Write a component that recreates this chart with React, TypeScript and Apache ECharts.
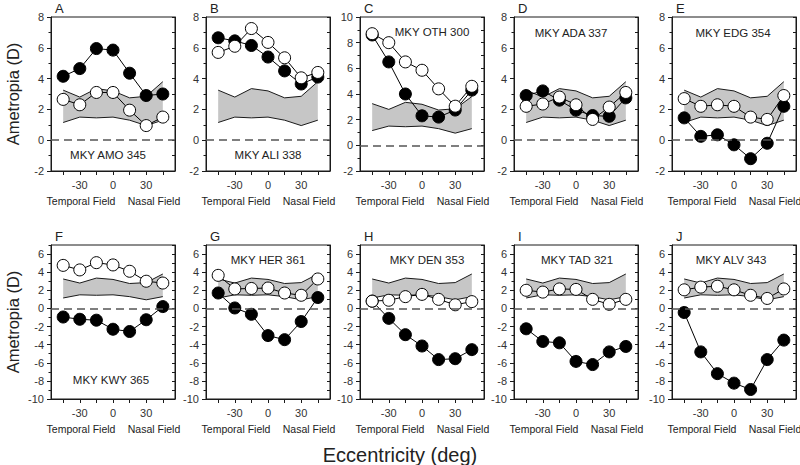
import React, { useEffect, useRef } from "react";
import * as echarts from "echarts";

// ---- data ----
const eccentricities = [-45, -30, -15, 0, 15, 30, 45];
const bandUpper = [3.25, 2.8, 3.35, 3.2, 2.75, 2.85, 3.8];
const bandLower = [1.15, 1.5, 1.45, 1.5, 1.3, 0.95, 1.3];

const panelLetters = ["A", "B", "C", "D", "E", "F", "G", "H", "I", "J"];
const monkeyNames = [
  "MKY AMO 345", "MKY ALI 338", "MKY OTH 300", "MKY ADA 337", "MKY EDG 354",
  "MKY KWY 365", "MKY HER 361", "MKY DEN 353", "MKY TAD 321", "MKY ALV 343",
];

const amoFilled = [4.15, 4.65, 5.95, 5.85, 4.35, 2.9, 3.0];
const amoOpen = [2.65, 2.3, 3.1, 3.1, 1.95, 0.95, 1.5];
const aliFilled = [6.65, 6.45, 6.15, 5.4, 4.5, 3.65, 4.1];
const aliOpen = [5.7, 6.1, 7.25, 6.35, 5.35, 4.05, 4.4];
const othFilled = [8.6, 6.5, 4.0, 2.3, 2.2, 2.75, 4.3];
const othOpen = [8.7, 8.0, 6.5, 5.85, 4.4, 3.05, 4.6];
const adaFilled = [2.9, 3.2, 2.6, 1.95, 1.6, 1.55, 2.75];
const adaOpen = [2.2, 2.35, 2.8, 2.3, 1.35, 2.15, 3.1];
const edgFilled = [1.45, 0.25, 0.35, -0.3, -1.2, -0.2, 2.2];
const edgOpen = [2.7, 2.2, 2.3, 2.2, 1.5, 1.35, 2.9];
const kwyFilled = [-0.95, -1.2, -1.3, -2.3, -2.55, -1.25, 0.2];
const kwyOpen = [4.75, 4.25, 5.05, 4.8, 4.1, 3.0, 2.8];
const herFilled = [1.7, 0.05, -0.65, -3.0, -3.45, -1.45, 1.2];
const herOpen = [3.65, 2.15, 2.2, 2.25, 1.7, 1.45, 3.25];
const denFilled = [0.8, -1.1, -2.9, -4.15, -5.65, -5.55, -4.55];
const denOpen = [0.8, 0.9, 1.3, 1.55, 1.0, 0.4, 0.75];
const tadFilled = [-2.25, -3.65, -3.8, -5.85, -6.2, -4.8, -4.2];
const tadOpen = [2.0, 1.8, 2.15, 2.1, 1.0, 0.45, 1.0];
const alvFilled = [-0.45, -4.8, -7.2, -8.25, -8.95, -5.65, -3.5];
const alvOpen = [2.05, 2.35, 2.45, 2.05, 1.45, 1.1, 2.15];

const filledSets = [amoFilled, aliFilled, othFilled, adaFilled, edgFilled, kwyFilled, herFilled, denFilled, tadFilled, alvFilled];
const openSets = [amoOpen, aliOpen, othOpen, adaOpen, edgOpen, kwyOpen, herOpen, denOpen, tadOpen, alvOpen];

const yRanges = [[-2, 8], [-2, 8], [-2, 10], [-2, 8], [-2, 8], [-10, 7], [-10, 7], [-10, 7], [-10, 7], [-10, 7]];
const xTickValues = [-45, -30, -15, 0, 15, 30, 45];
const xLabelValues = [-30, 0, 30];
const xRange = [-56, 56];

// ---- layout ----
const gridLefts = [51, 206, 360, 514, 672];
const gridTops = [17, 245];
const gridW = 124;
const gridH = 154;
const nameOffsets = [[57, 138], [62, 138], [72, 15], [57, 16], [61, 16], [60, 135], [62, 15], [67, 15], [63, 15], [59, 15]];
const FONT = "'Liberation Sans', Arial, Helvetica, sans-serif";

function range(a: number, b: number, step: number) {
  const out: number[] = [];
  for (let v = a; v <= b + 1e-9; v += step) out.push(v);
  return out;
}

function buildOption() {
  const grid: any[] = [];
  const xAxis: any[] = [];
  const yAxis: any[] = [];
  const series: any[] = [];
  const graphic: any[] = [];
  const lineColor = "#1a1a1a";

  for (let i = 0; i < 10; i++) {
    const row = i < 5 ? 0 : 1;
    const col = i % 5;
    const left = gridLefts[col];
    const top = gridTops[row];
    const [ymin, ymax] = yRanges[i];
    grid.push({ left, top, width: gridW, height: gridH, show: true, borderColor: lineColor, borderWidth: 1, backgroundColor: "transparent" });
    xAxis.push({
      gridIndex: i, type: "value", min: xRange[0], max: xRange[1], position: "bottom",
      axisLine: { show: true, onZero: false, lineStyle: { color: lineColor, width: 1 } },
      axisTick: { show: true, customValues: xTickValues, length: 4, inside: false, lineStyle: { color: lineColor } },
      axisLabel: { customValues: xLabelValues, fontSize: 11, color: "#333", margin: 8, fontFamily: FONT },
      splitLine: { show: false },
    });
    const ints = range(ymin, ymax, 1);
    const evens = ints.filter((v) => Math.abs(v % 2) === 0 && v < ymax + (ymax % 2 === 0 ? 1 : 0));
    const odds = ints.filter((v) => Math.abs(v % 2) === 1);
    // left main axis
    yAxis.push({
      gridIndex: i, type: "value", min: ymin, max: ymax, position: "left",
      axisLine: { show: true, onZero: false, lineStyle: { color: lineColor, width: 1 } },
      axisTick: { show: true, customValues: evens, length: 4, lineStyle: { color: lineColor } },
      axisLabel: { customValues: evens, fontSize: 11, color: "#333", margin: 7, fontFamily: FONT },
      splitLine: { show: false },
    });
    // left minor ticks
    yAxis.push({
      gridIndex: i, type: "value", min: ymin, max: ymax, position: "left",
      axisLine: { show: false, onZero: false },
      axisTick: { show: true, customValues: odds, length: 2.5, lineStyle: { color: lineColor } },
      axisLabel: { show: false },
      splitLine: { show: false },
    });
    // right axis with inward ticks
    yAxis.push({
      gridIndex: i, type: "value", min: ymin, max: ymax, position: "right",
      axisLine: { show: true, onZero: false, lineStyle: { color: lineColor, width: 1 } },
      axisTick: { show: true, inside: true, customValues: ints, length: 3, lineStyle: { color: lineColor } },
      axisLabel: { show: false },
      splitLine: { show: false },
    });
    const yIdx = i * 3;

    // band fill
    series.push({
      type: "custom", coordinateSystem: "cartesian2d", xAxisIndex: i, yAxisIndex: yIdx,
      silent: true, z: 1,
      data: eccentricities.map((x, k) => [x, bandLower[k], bandUpper[k]]),
      encode: { x: 0, y: [1, 2] },
      renderItem: (params: any, api: any) => {
        if (params.dataIndex !== 0) return null;
        const pts: number[][] = [];
        for (let k = 0; k < eccentricities.length; k++) pts.push(api.coord([eccentricities[k], bandUpper[k]]));
        for (let k = eccentricities.length - 1; k >= 0; k--) pts.push(api.coord([eccentricities[k], bandLower[k]]));
        return { type: "polygon", shape: { points: pts }, style: { fill: "#c6c6c6", stroke: "none" } };
      },
    });
    // band outlines
    series.push({
      type: "line", xAxisIndex: i, yAxisIndex: yIdx, silent: true, z: 2, symbol: "none",
      data: eccentricities.map((x, k) => [x, bandUpper[k]]),
      lineStyle: { color: lineColor, width: 1 },
    });
    series.push({
      type: "line", xAxisIndex: i, yAxisIndex: yIdx, silent: true, z: 2, symbol: "none",
      data: eccentricities.map((x, k) => [x, bandLower[k]]),
      lineStyle: { color: lineColor, width: 1 },
      markLine: {
        silent: true, symbol: ["none", "none"], label: { show: false },
        lineStyle: { type: [8, 5], color: "#555", width: 1.5 },
        data: [{ yAxis: 0 }],
      },
    });
    // filled
    series.push({
      type: "line", xAxisIndex: i, yAxisIndex: yIdx, z: 3, symbol: "circle", symbolSize: 12,
      data: eccentricities.map((x, k) => [x, filledSets[i][k]]),
      lineStyle: { color: "#000", width: 1 },
      itemStyle: { color: "#000", borderColor: "#000", borderWidth: 1 },
    });
    // open
    series.push({
      type: "line", xAxisIndex: i, yAxisIndex: yIdx, z: 4, symbol: "circle", symbolSize: 12,
      data: eccentricities.map((x, k) => [x, openSets[i][k]]),
      lineStyle: { color: "#000", width: 1 },
      itemStyle: { color: "#fff", borderColor: "#000", borderWidth: 1 },
    });

    // texts
    graphic.push({
      type: "text", x: left + 4, y: top - 9, z: 10,
      style: { text: panelLetters[i], fontSize: 13, fontFamily: FONT, fill: "#222", align: "left", verticalAlign: "middle" },
    });
    graphic.push({
      type: "text", x: left + nameOffsets[i][0], y: top + nameOffsets[i][1], z: 10,
      style: { text: monkeyNames[i], fontSize: 11.5, fontFamily: FONT, fill: "#222", align: "center", verticalAlign: "middle" },
    });
    graphic.push({
      type: "text", x: left + 30, y: top + gridH + 30, z: 10,
      style: { text: "Temporal Field", fontSize: 10.5, fontFamily: FONT, fill: "#222", align: "center", verticalAlign: "middle" },
    });
    graphic.push({
      type: "text", x: left + 103, y: top + gridH + 30, z: 10,
      style: { text: "Nasal Field", fontSize: 10.5, fontFamily: FONT, fill: "#222", align: "center", verticalAlign: "middle" },
    });
  }

  for (let r = 0; r < 2; r++) {
    graphic.push({
      type: "text", x: 13, y: gridTops[r] + gridH / 2, rotation: Math.PI / 2, z: 10,
      style: { text: "Ametropia (D)", fontSize: 16.5, fontFamily: FONT, fill: "#222", align: "center", verticalAlign: "middle" },
    });
  }
  graphic.push({
    type: "text", x: 400, y: 455, z: 10,
    style: { text: "Eccentricity (deg)", fontSize: 20, fontFamily: FONT, fill: "#222", align: "center", verticalAlign: "middle" },
  });

  return { animation: false, backgroundColor: "#fff", grid, xAxis, yAxis, series, graphic };
}

export default function App() {
  const ref = useRef<HTMLDivElement>(null);
  useEffect(() => {
    if (!ref.current) return;
    const chart = echarts.init(ref.current, undefined, { renderer: "svg" });
    chart.setOption(buildOption() as any);
    return () => chart.dispose();
  }, []);
  return <div ref={ref} style={{ position: "fixed", left: 0, top: 0, width: 800, height: 465 }} />;
}
